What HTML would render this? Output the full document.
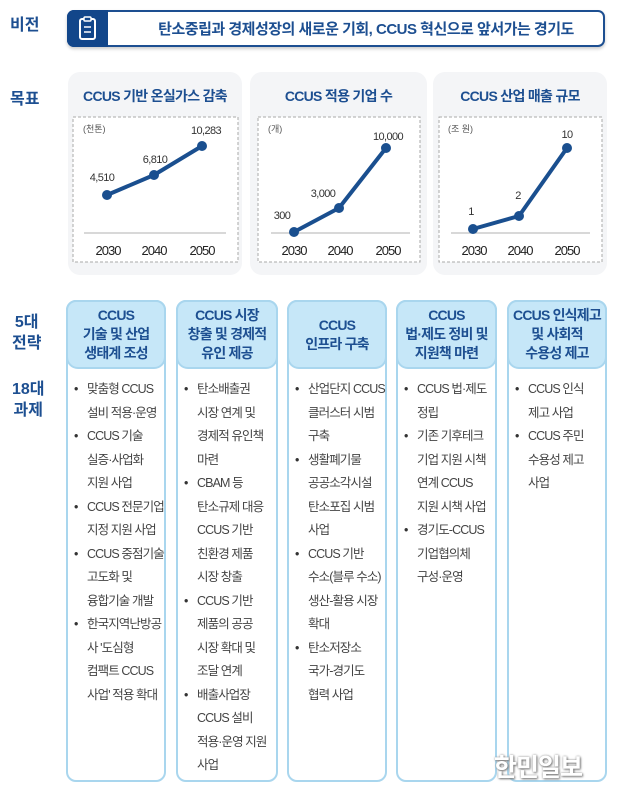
<!DOCTYPE html>
<html><head><meta charset="utf-8">
<style>
*{margin:0;padding:0;box-sizing:border-box}
body{width:620px;height:794px;background:#fff;position:relative;overflow:hidden;font-family:"Liberation Sans","Noto Sans CJK KR",sans-serif;}
.lab{position:absolute;color:#1d4f91;font-weight:bold;font-size:16px;line-height:21px;text-align:center;}
.vis{position:absolute;left:67px;top:10px;width:538px;height:37px;border:2px solid #1d4f91;border-radius:7px;box-shadow:0 2px 3px #ccc;}
.icon{position:absolute;left:-2px;top:-2px;width:41px;height:37px;background:#12468a;border-radius:7px 0 0 7px;}
.vt{position:absolute;left:60px;right:0;top:6px;text-align:center;font-size:15px;font-weight:bold;color:#1d4f91;letter-spacing:-0.5px}
.panel{position:absolute;top:72px;height:203px;background:#f4f5f7;border-radius:12px;}
.pt{position:absolute;top:86px;font-size:14px;font-weight:bold;color:#1d4f91;text-align:center;letter-spacing:-0.7px}
.col{position:absolute;top:300px;height:482px;border:2px solid #a9d6ee;border-radius:10px;background:#fff;}
.hd{position:absolute;left:-2px;right:-2px;top:-2px;height:69px;background:#c6e7f8;border:2px solid #a9d6ee;border-radius:10px 10px 12px 12px;color:#1d4f91;font-weight:bold;font-size:14px;line-height:19px;text-align:center;display:flex;align-items:center;justify-content:center;letter-spacing:-0.8px;white-space:nowrap}
.ul{position:absolute;top:76px;left:6px;right:0;font-size:12.5px;line-height:23.5px;color:#444;letter-spacing:-0.9px;white-space:nowrap}
.ul div{padding-left:13px;position:relative}
.ul div.b:before{content:"•";position:absolute;left:0;color:#333}
</style></head><body>
<div class="lab" style="left:10px;top:15px;">비전</div>
<div class="vis"><div class="icon">
<svg width="41" height="37"><rect x="13" y="9" width="15" height="20" rx="2" fill="none" stroke="#fff" stroke-width="2"/><rect x="17" y="7" width="7" height="4" rx="1" fill="#12468a" stroke="#fff" stroke-width="1.5"/><line x1="17" y1="17" x2="24" y2="17" stroke="#fff" stroke-width="1.5"/><line x1="17" y1="22" x2="24" y2="22" stroke="#fff" stroke-width="1.5"/></svg>
</div><div class="vt">탄소중립과 경제성장의 새로운 기회, CCUS 혁신으로 앞서가는 경기도</div></div>

<div class="lab" style="left:10px;top:89px;">목표</div>
<div class="panel" style="left:68px;width:174px"></div>
<div class="panel" style="left:250px;width:177px"></div>
<div class="panel" style="left:433px;width:174px"></div>
<div class="pt" style="left:68px;width:174px">CCUS 기반 온실가스 감축</div>
<div class="pt" style="left:250px;width:177px">CCUS 적용 기업 수</div>
<div class="pt" style="left:433px;width:174px">CCUS 산업 매출 규모</div>

<svg style="position:absolute;left:0;top:0" width="620" height="290" font-family="Liberation Sans, Noto Sans CJK KR, sans-serif">
<g fill="#fff" stroke="#aaa" stroke-dasharray="3,2" stroke-width="1">
<rect x="73" y="117" width="165" height="145"/><rect x="258" y="117" width="162" height="145"/><rect x="439" y="117" width="163" height="145"/></g>
<g stroke="#ccc" stroke-width="1.5"><line x1="84" y1="233" x2="226" y2="233"/><line x1="271" y1="233" x2="410" y2="233"/><line x1="451" y1="233" x2="590" y2="233"/></g>
<g fill="none" stroke="#1a4f8f" stroke-width="4" stroke-linejoin="round">
<polyline points="107,195 154,175 202,146"/><polyline points="294,232 339,208 386,148"/><polyline points="473,229 519,216 567,148"/></g>
<g fill="#1a4f8f"><circle cx="107" cy="195" r="5"/><circle cx="154" cy="175" r="5"/><circle cx="202" cy="146" r="5"/>
<circle cx="294" cy="232" r="5"/><circle cx="339" cy="208" r="5"/><circle cx="386" cy="148" r="5"/>
<circle cx="473" cy="229" r="5"/><circle cx="519" cy="216" r="5"/><circle cx="567" cy="148" r="5"/></g>
<g font-size="9" fill="#555"><text x="83" y="132">(천톤)</text><text x="268" y="132">(개)</text><text x="448" y="132">(조 원)</text></g>
<g font-size="11" fill="#333" text-anchor="middle" letter-spacing="-0.6">
<text x="102" y="181">4,510</text><text x="155" y="163">6,810</text><text x="206" y="134">10,283</text>
<text x="282" y="219">300</text><text x="323" y="197">3,000</text><text x="388" y="140">10,000</text>
<text x="471" y="215">1</text><text x="518" y="199">2</text><text x="567" y="138">10</text></g>
<g font-size="13" fill="#222" text-anchor="middle" letter-spacing="-1">
<text x="108" y="255">2030</text><text x="154" y="255">2040</text><text x="202" y="255">2050</text>
<text x="294" y="255">2030</text><text x="340" y="255">2040</text><text x="388" y="255">2050</text>
<text x="474" y="255">2030</text><text x="520" y="255">2040</text><text x="567" y="255">2050</text></g>
</svg>

<div class="lab" style="left:12px;top:312px;">5대<br>전략</div>
<div class="lab" style="left:12px;top:379px;">18대<br>과제</div>

<div class="col" style="left:66px;width:100px"><div class="hd">CCUS<br>기술 및 산업<br>생태계 조성</div>
<div class="ul"><div class="b">맞춤형 CCUS</div><div>설비 적용·운영</div><div class="b">CCUS 기술</div><div>실증·사업화</div><div>지원 사업</div><div class="b">CCUS 전문기업</div><div>지정 지원 사업</div><div class="b">CCUS 중점기술</div><div>고도화 및</div><div>융합기술 개발</div><div class="b">한국지역난방공</div><div>사 '도심형</div><div>컴팩트 CCUS</div><div>사업' 적용 확대</div></div></div>
<div class="col" style="left:176px;width:102px"><div class="hd">CCUS 시장<br>창출 및 경제적<br>유인 제공</div>
<div class="ul"><div class="b">탄소배출권</div><div>시장 연계 및</div><div>경제적 유인책</div><div>마련</div><div class="b">CBAM 등</div><div>탄소규제 대응</div><div>CCUS 기반</div><div>친환경 제품</div><div>시장 창출</div><div class="b">CCUS 기반</div><div>제품의 공공</div><div>시장 확대 및</div><div>조달 연계</div><div class="b">배출사업장</div><div>CCUS 설비</div><div>적용·운영 지원</div><div>사업</div></div></div>
<div class="col" style="left:287px;width:100px"><div class="hd">CCUS<br>인프라 구축</div>
<div class="ul"><div class="b">산업단지 CCUS</div><div>클러스터 시범</div><div>구축</div><div class="b">생활폐기물</div><div>공공소각시설</div><div>탄소포집 시범</div><div>사업</div><div class="b">CCUS 기반</div><div>수소(블루 수소)</div><div>생산-활용 시장</div><div>확대</div><div class="b">탄소저장소</div><div>국가-경기도</div><div>협력 사업</div></div></div>
<div class="col" style="left:396px;width:101px"><div class="hd">CCUS<br>법·제도 정비 및<br>지원책 마련</div>
<div class="ul"><div class="b">CCUS 법·제도</div><div>정립</div><div class="b">기존 기후테크</div><div>기업 지원 시책</div><div>연계 CCUS</div><div>지원 시책 사업</div><div class="b">경기도-CCUS</div><div>기업협의체</div><div>구성·운영</div></div></div>
<div class="col" style="left:507px;width:100px"><div class="hd">CCUS 인식제고<br>및 사회적<br>수용성 제고</div>
<div class="ul"><div class="b">CCUS 인식</div><div>제고 사업</div><div class="b">CCUS 주민</div><div>수용성 제고</div><div>사업</div></div></div>

<div style="position:absolute;left:494px;top:748px;font-size:25px;font-weight:bold;color:#fff;text-shadow:1px 1px 2px #777,0 0 2px #999;letter-spacing:-1px">한민일보</div>
</body></html>
